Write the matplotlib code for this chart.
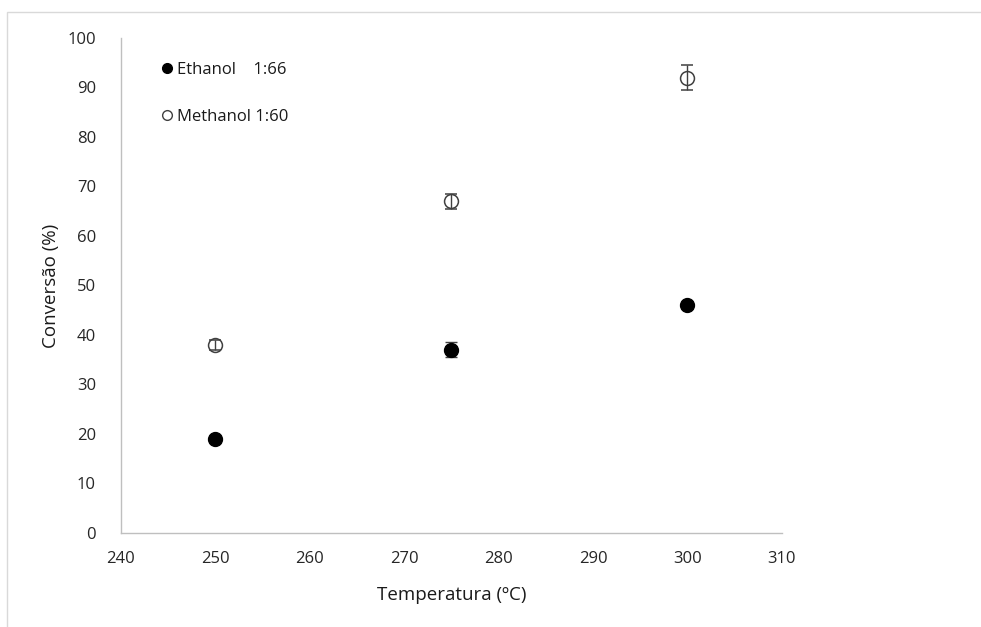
import matplotlib.pyplot as plt
from matplotlib.lines import Line2D
from matplotlib.patches import Rectangle

plt.rcParams['font.family'] = ['Open Sans', 'DejaVu Sans']

# Conversion vs temperature for the two alcohols
temperatura = [250, 275, 300]
etanol = [19.0, 37.0, 46.0]
etanol_err = [0.5, 1.5, 0.5]
metanol = [38.0, 67.0, 92.0]
metanol_err = [1.0, 1.5, 2.5]

fig = plt.figure(figsize=(9.81, 6.27), dpi=100)
ax = fig.add_axes([0.1233, 0.150, 0.6737, 0.7894])

# thin frame around the chart area
fig.patches.append(Rectangle((0.007, -0.05), 1.1, 1.031, transform=fig.transFigure,
                             fill=False, edgecolor='#d9d9d9', linewidth=1.0))

ax.errorbar(temperatura, metanol, yerr=metanol_err, fmt='o', color='#404040',
            markerfacecolor='none', markeredgecolor='#404040', markersize=10,
            markeredgewidth=1.1, ecolor='#404040', elinewidth=1.0, capsize=4.5,
            capthick=1.0, zorder=3)
ax.errorbar(temperatura, etanol, yerr=etanol_err, fmt='o', color='black',
            markersize=10, ecolor='#404040', elinewidth=1.0, capsize=4.5,
            capthick=1.0, zorder=3)

ax.set_xlim(240, 310)
ax.set_ylim(0, 100)
ax.set_xticks(range(240, 311, 10))
ax.set_yticks(range(0, 101, 10))
ax.tick_params(length=0, labelsize=12, colors='#262626')
ax.tick_params(axis='x', pad=13)
ax.tick_params(axis='y', pad=18)

for side in ['top', 'right']:
    ax.spines[side].set_visible(False)
for side in ['left', 'bottom']:
    ax.spines[side].set_color('#bfbfbf')
    ax.spines[side].set_linewidth(1.0)

ax.set_xlabel('Temperatura (ºC)', fontsize=13.5, color='#1a1a1a', labelpad=14)
ax.set_ylabel('Conversão (%)', fontsize=13.5, color='#1a1a1a', labelpad=5)

handles = [
    Line2D([], [], marker='o', linestyle='none', color='black', markersize=7),
    Line2D([], [], marker='o', linestyle='none', markerfacecolor='white',
           markeredgecolor='#404040', markersize=7),
]
ax.legend(handles, ['Ethanol    1:66', 'Methanol 1:60'], loc='upper left',
          bbox_to_anchor=(0.034, 0.982), frameon=False, fontsize=12,
          handletextpad=0.1, handlelength=1.0, labelspacing=1.85,
          labelcolor='#1a1a1a')

fig.savefig('out.png', dpi=100, facecolor='white')
